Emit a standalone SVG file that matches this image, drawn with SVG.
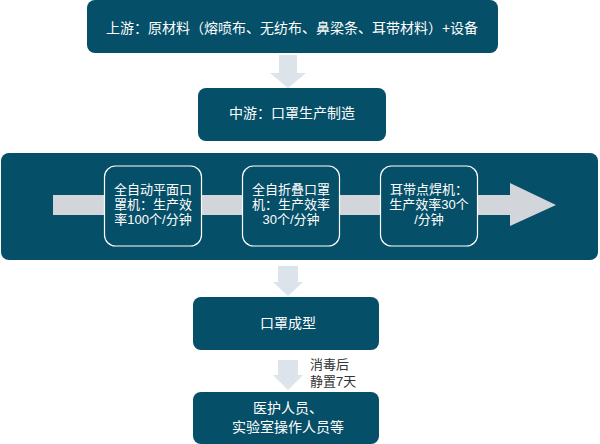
<svg xmlns="http://www.w3.org/2000/svg" width="600" height="444" viewBox="0 0 600 444">
<style>
.box{fill:#064f69;}
.inner{fill:#064f69;stroke:#ffffff;stroke-width:1.2;}
.t{font-family:"Liberation Sans","Noto Sans CJK SC",sans-serif;font-size:14px;fill:#ffffff;text-anchor:middle;}
.s{font-family:"Liberation Sans","Noto Sans CJK SC",sans-serif;font-size:13px;fill:#ffffff;text-anchor:middle;}
.lbl{font-family:"Liberation Sans","Noto Sans CJK SC",sans-serif;font-size:13px;fill:#333333;}
.darrow{fill:#dde3ea;}
.barrow{fill:#d2d6da;}
</style>
<rect width="600" height="444" fill="#ffffff"/>
<g id="connectors">
<polygon class="darrow" points="279,55 297,55 297,73 306,73 288,88 270,73 279,73"/>
<polygon class="darrow" points="278,266 298,266 298,282 303,282 288,296 273,282 278,282"/>
<polygon class="darrow" points="278,360 298,360 298,375 303,375 288,390 273,375 278,375"/>
<text class="lbl" x="310" y="369">消毒后</text>
<text class="lbl" x="310" y="386">静置7天</text>
</g>
<g id="upstream">
<rect class="box" x="87" y="0" width="411" height="53" rx="8"/>
<text class="t" x="292" y="33">上游：原材料（熔喷布、无纺布、鼻梁条、耳带材料）+设备</text>
</g>
<g id="midstream">
<rect class="box" x="198" y="88" width="188" height="53" rx="8"/>
<text class="t" x="292" y="118">中游：口罩生产制造</text>
</g>
<g id="process">
<rect class="box" x="1" y="153" width="597" height="107" rx="8"/>
<polygon class="barrow" points="53,195 510,195 510,183 556,205 510,226 510,215 53,215"/>
</g>
<g id="machine1">
<rect class="inner" x="104.5" y="166" width="97" height="80" rx="11"/>
<text class="s" x="153" y="194">全自动平面口</text>
<text class="s" x="153" y="209">罩机：生产效</text>
<text class="s" x="153" y="224">率100个/分钟</text>
</g>
<g id="machine2">
<rect class="inner" x="242.5" y="166" width="97" height="80" rx="11"/>
<text class="s" x="291" y="194">全自折叠口罩</text>
<text class="s" x="291" y="209">机：生产效率</text>
<text class="s" x="291" y="224">30个/分钟</text>
</g>
<g id="machine3">
<rect class="inner" x="380.5" y="166" width="97" height="80" rx="11"/>
<text class="s" x="429" y="194">耳带点焊机：</text>
<text class="s" x="429" y="209">生产效率30个</text>
<text class="s" x="429" y="224">/分钟</text>
</g>
<g id="forming">
<rect class="box" x="193" y="297" width="186" height="53" rx="8"/>
<text class="t" x="288" y="328">口罩成型</text>
</g>
<g id="users">
<rect class="box" x="193" y="392" width="186" height="52" rx="8"/>
<text class="t" x="288" y="413">医护人员、</text>
<text class="t" x="288" y="432">实验室操作人员等</text>
</g>
</svg>
